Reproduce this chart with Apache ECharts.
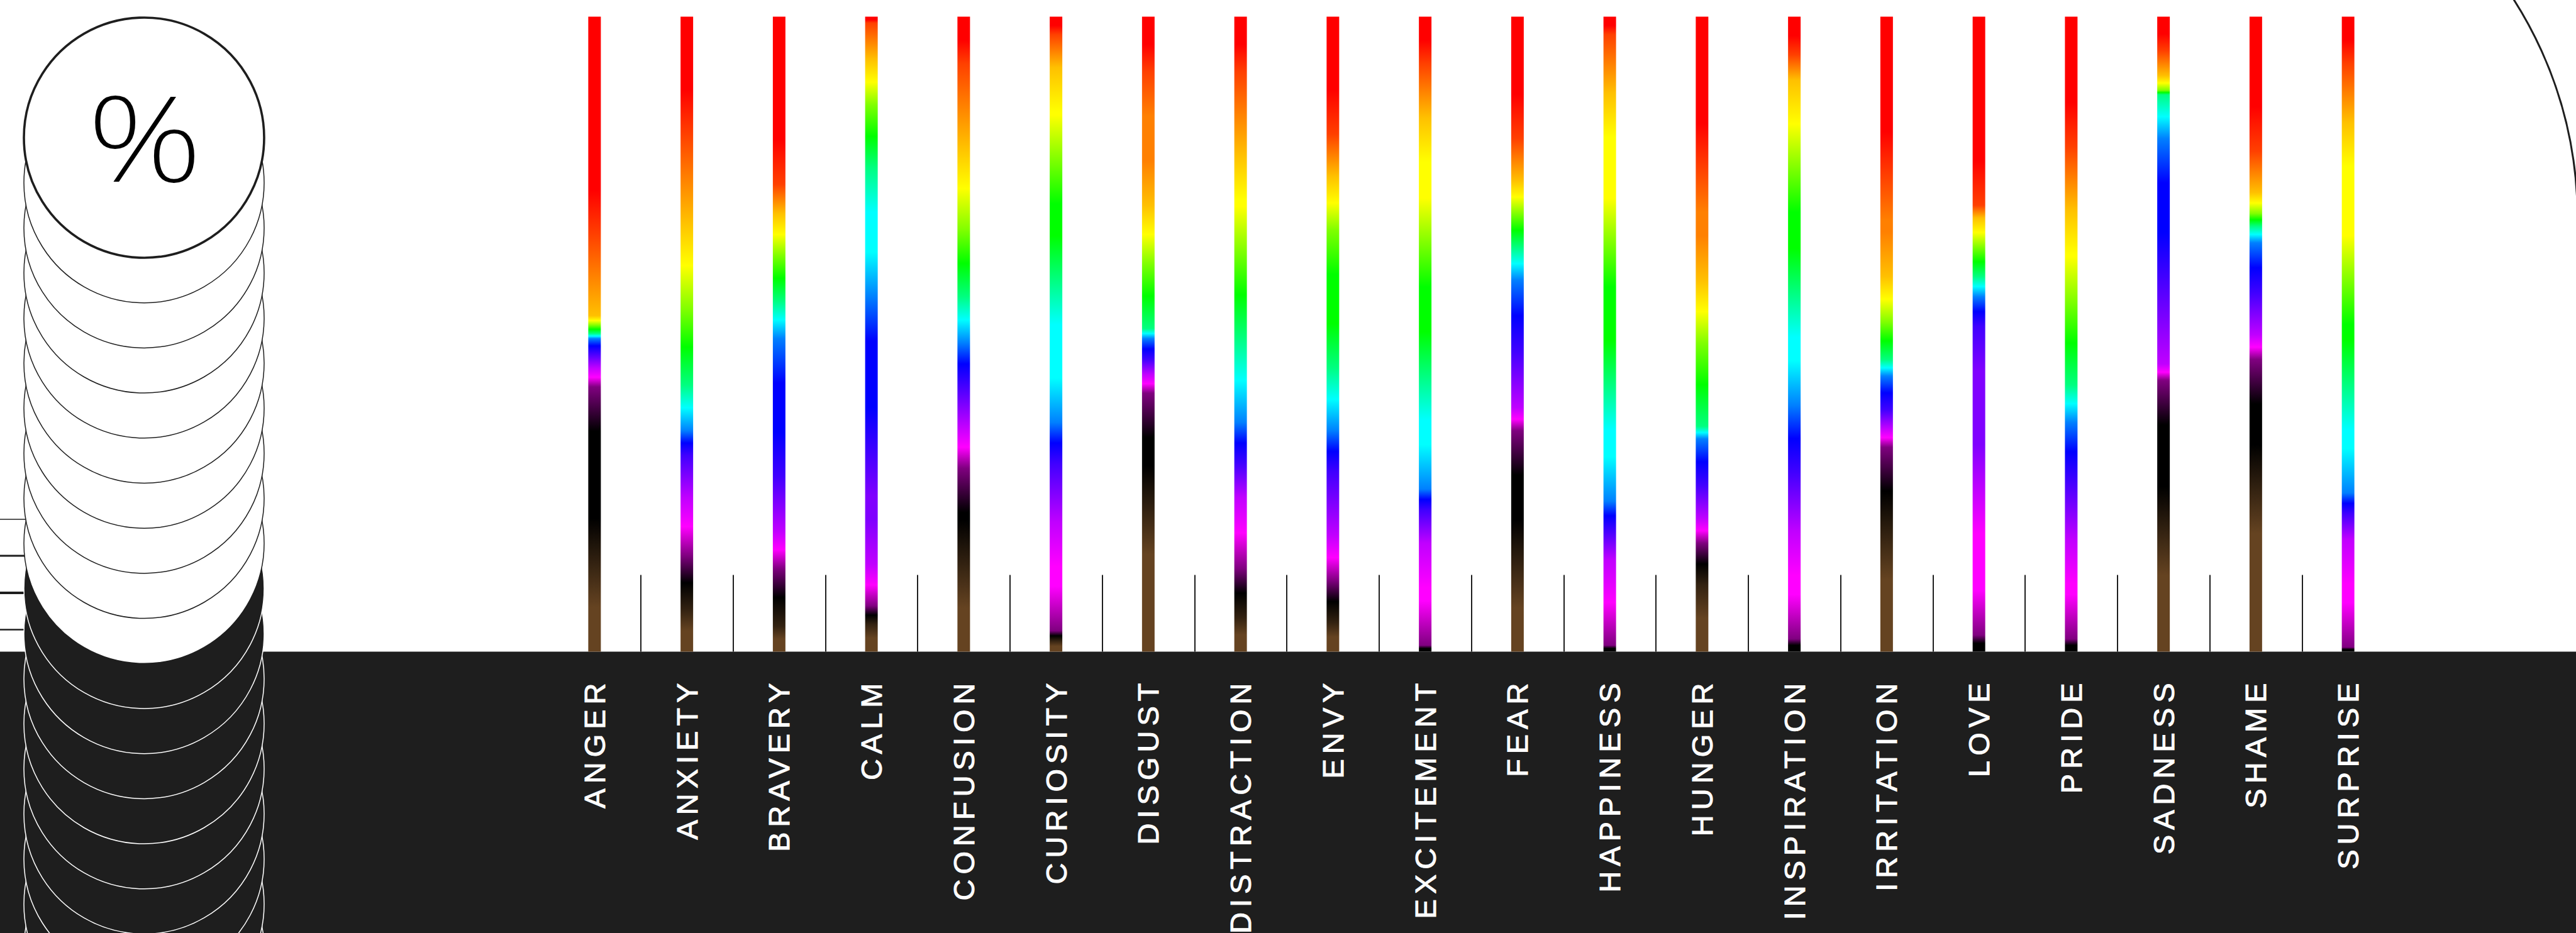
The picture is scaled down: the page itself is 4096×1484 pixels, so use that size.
<!DOCTYPE html>
<html>
<head>
<meta charset="utf-8">
<script src="https://cdn.jsdelivr.net/npm/echarts@6/dist/echarts.min.js"></script>
<style>
html,body{margin:0;padding:0;background:#ffffff;}
#main{width:4096px;height:1484px;}
#main text{letter-spacing:8px;}
</style>
</head>
<body>
<div id="main"></div>
<script>
// ---------- data ----------
const emotions = ['ANGER','ANXIETY','BRAVERY','CALM','CONFUSION','CURIOSITY','DISGUST','DISTRACTION','ENVY','EXCITEMENT','FEAR','HAPPINESS','HUNGER','INSPIRATION','IRRITATION','LOVE','PRIDE','SADNESS','SHAME','SURPRISE'];

// share (%) of each colour named for every emotion (same order as emotions)
const red     = [34.3,18.5,26.4, 1.0, 7.4, 2.8, 8.7, 8.7,18.5, 7.4,19.2, 2.8,23.8, 6.0,25.1,29.7,20.5, 5.4,21.2, 7.4];
const orange  = [12.8,13.8, 4.6, 5.7,13.1, 5.2,21.0,13.1, 6.6, 8.5, 6.6, 9.2,17.7, 4.0,15.8, 2.0, 9.9, 3.9, 6.5, 9.2];
const yellow  = [ 1.5,13.8, 6.6, 7.2,13.1,14.5, 9.2,15.1, 8.5,19.7, 5.2,23.6, 9.9,13.8, 7.2, 4.6,14.4, 2.3, 3.3,24.9];
const green   = [ 1.3,11.9, 7.2, 9.9,10.5,19.0,10.2,13.8,21.7,21.0, 5.3,22.4,13.1,19.7, 5.9, 4.6,13.2, 0.7, 2.0,16.5];
const cyan    = [ 0.8, 7.2, 5.9,20.3, 7.3,22.4, 1.6,13.2, 9.9,17.8, 5.2,18.3, 2.0,17.7, 2.6, 3.2, 5.9, 6.9, 2.6,17.0];
const blue    = [ 2.3, 3.9,21.7,24.4, 6.6, 6.5, 3.3, 6.5, 6.5, 3.3,11.2, 4.6, 7.2,10.5, 5.3, 4.7, 9.2,21.7, 7.9, 3.3];
const purple  = [ 2.3, 6.6, 8.6,17.7, 6.5, 9.2, 2.3, 5.3, 9.9, 5.2, 8.9, 4.6, 5.3, 9.3, 2.9,25.6, 9.2,13.8, 6.6, 4.0];
const magenta = [ 3.0, 9.2, 5.9, 6.6, 6.6,17.1, 3.0,11.2, 7.2,16.1, 3.6,13.5, 3.9,17.0, 3.0,23.0,15.7, 2.6, 3.9,17.0];
const black   = [27.7, 8.5, 9.1, 2.9,15.1, 1.6,18.4, 7.8, 6.6, 1.0,21.0, 1.0, 6.6, 2.0,13.8, 2.6, 2.0,23.7,20.4, 0.7];
const brown   = [14.0, 6.6, 4.0, 4.3,13.8, 1.7,22.3, 5.3, 4.6, 0.0,13.8, 0.0,10.5, 0.0,18.4, 0.0, 0.0,19.0,25.6, 0.0];

const colourShares = [red, orange, yellow, green, cyan, blue, purple, magenta, black, brown];
const colourHex = ['#ff0000','#ff8000','#ffff00','#00ff00','#00ffff','#0000ff','#8000ff','#ff00ff','#000000','#654321'];

// ---------- helpers ----------
function hexToRgb(h){return [parseInt(h.substr(1,2),16),parseInt(h.substr(3,2),16),parseInt(h.substr(5,2),16)];}
function mix(a,b){
  const x=hexToRgb(a), y=hexToRgb(b);
  return 'rgb('+Math.round((x[0]+y[0])/2)+','+Math.round((x[1]+y[1])/2)+','+Math.round((x[2]+y[2])/2)+')';
}
const BLEND = 0.07;
function gradientFor(i){
  const shares = colourShares.map(arr => arr[i]);
  const total = shares.reduce((a,b)=>a+b,0);
  const segs = [];
  let acc = 0;
  shares.forEach((s,k)=>{
    if (s > 0) segs.push({c: colourHex[k], a: acc/total, b: (acc+s)/total, s: s/total});
    acc += s;
  });
  const stops = [];
  segs.forEach((g,j)=>{
    const h = Math.min(g.s/2, BLEND);
    stops.push({offset: j===0 ? 0 : g.a + h, color: g.c});
    stops.push({offset: j===segs.length-1 ? 1 : g.b - h, color: g.c});
    if (j < segs.length-1) stops.push({offset: g.b, color: mix(g.c, segs[j+1].c)});
  });
  return {type:'linear', x:0, y:0, x2:0, y2:1, colorStops: stops};
}

const totals = emotions.map((e,i)=> Math.round(colourShares.reduce((a,arr)=>a+arr[i],0)*10)/10);
const barData = emotions.map((e,i)=>({value: totals[i], itemStyle:{color: gradientFor(i)}}));

// ---------- layout (output px) ----------
const W = 4096, H = 1484;
const gridLeft = 872, gridRight = 289, gridTop = 26.5, bandTop = 1036.5;
const tickLen = 122;

// circle stack
const stackCx = 229, stackR = 191, stackCy0 = 219, stackStep = 71.7, stackCount = 20, whiteCount = 10;
const graphics = [];
graphics.push({type:'rect', z:-1, shape:{x:0, y:bandTop, width:W, height:H-bandTop}, style:{fill:'#1e1e1e'}});
// short horizontal rules on the left
[[826,1.6],[884,3],[943,4],[1001.5,2.5]].forEach(l=>{
  graphics.push({type:'line', z:5, shape:{x1:0, y1:l[0], x2:120, y2:l[0]}, style:{stroke:'#1e1e1e', lineWidth:l[1]}});
});
for (let k = stackCount-1; k >= 0; k--){
  const white = k < whiteCount;
  graphics.push({type:'circle', z: 10 + (stackCount-k),
    shape:{cx:stackCx, cy:stackCy0 + k*stackStep, r:stackR},
    style:{fill: white ? '#ffffff' : '#1e1e1e', stroke: white ? '#1e1e1e' : '#ffffff', lineWidth: k===0 ? 3.6 : 1.5}});
}
graphics.push({type:'text', z:40, x:235, y:216, scaleX:1.22, scaleY:1,
  style:{text:'%', x:0, y:0, align:'center', verticalAlign:'middle',
  fontSize:188, fontFamily:'Noto Sans', fontWeight:240, fill:'#000000'}});
// large arc at top right
graphics.push({type:'arc', z:5, shape:{cx:3455.7, cy:345.9, r:642.7, startAngle:-0.8, endAngle:-0.05, clockwise:true},
  style:{stroke:'#1e1e1e', lineWidth:3, fill:'none'}});

const chart = echarts.init(document.getElementById('main'), null, {renderer:'svg', width:W, height:H});
chart.setOption({
  backgroundColor:'#ffffff',
  animation:false,
  grid:[
    {left:gridLeft, right:gridRight, top:gridTop, bottom:H-bandTop},
    {left:gridLeft, right:gridRight, top:bandTop-tickLen, bottom:H-bandTop}
  ],
  xAxis:[
    {type:'category', gridIndex:0, data:emotions, boundaryGap:true,
     axisLine:{show:false}, axisTick:{show:false}, splitLine:{show:false},
     axisLabel:{show:true, interval:0, rotate:90, margin:42, color:'#ffffff', fontSize:47, fontFamily:'Liberation Sans',
       textBorderColor:'#ffffff', textBorderWidth:1}},
    {type:'category', gridIndex:1, data:emotions, boundaryGap:true,
     axisLine:{show:false}, axisTick:{show:false}, axisLabel:{show:false},
     splitLine:{show:true, showMinLine:false, showMaxLine:false, interval:0, lineStyle:{color:'#1e1e1e', width:2}}}
  ],
  yAxis:[
    {type:'value', gridIndex:0, min:0, max:function(v){return v.max;}, show:false},
    {type:'value', gridIndex:1, min:0, max:1, show:false}
  ],
  graphic:{elements:graphics},
  series:[
    {type:'bar', xAxisIndex:0, yAxisIndex:0, data:barData, barWidth:20}
  ]
});
</script>
</body>
</html>
